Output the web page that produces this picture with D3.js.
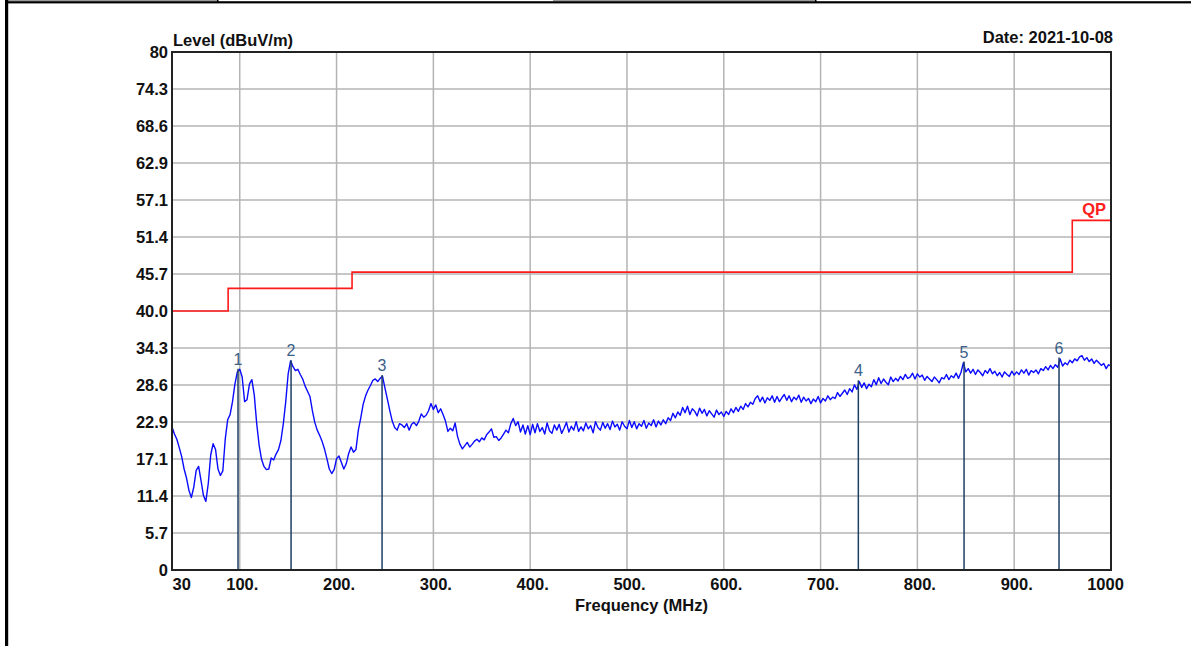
<!DOCTYPE html>
<html>
<head>
<meta charset="utf-8">
<script src="https://cdn.jsdelivr.net/npm/d3@7"></script>
<style>
  body { margin: 0; background: #fff; }
  text { font-family: Arial, "Liberation Sans", sans-serif; font-weight: bold; }
  text.mark { font-weight: normal; }
</style>
</head>
<body>
<svg id="chart"></svg>
<script>
// sweep: 30 .. 1000 MHz, one reading every 2.5 MHz
const sweepStart = 30;
const sweepStep = 2.5;
const levels = [
  22.1, 21.0, 20.2, 18.9, 17.5, 15.6, 14.2, 12.3, 11.2, 12.8,
  15.4, 16.0, 13.8, 11.5, 10.6, 13.4, 17.8, 19.5, 18.6, 15.6,
  14.6, 15.3, 20.2, 23.2, 24.0, 26.0, 28.7, 30.6, 31.0, 29.8,
  26.0, 26.3, 28.7, 29.4, 27.0, 22.6, 19.3, 17.1, 16.0, 15.5,
  15.6, 17.3, 17.0, 17.9, 18.6, 20.0, 22.6, 26.0, 30.3, 32.3,
  31.4, 30.8, 31.0, 30.2, 29.5, 28.4, 27.6, 26.8, 24.6, 22.8,
  21.6, 20.8, 19.9, 18.7, 17.2, 15.6, 14.9, 15.5, 17.2, 17.6,
  16.6, 15.6, 16.4, 18.0, 19.0, 18.2, 18.6, 21.6, 23.5, 25.6,
  26.9, 27.8, 28.5, 29.3, 29.5, 29.1, 29.6, 29.9, 28.1, 26.4,
  24.6, 23.0, 22.0, 21.6, 22.6, 22.4, 22.0, 22.6, 21.6, 22.5,
  22.8, 22.3, 23.0, 24.1, 23.6, 23.9, 24.6, 25.7, 24.8, 25.5,
  24.3, 24.9, 24.0, 23.0, 21.4, 21.9, 21.5, 22.7, 20.6, 19.4,
  18.7, 19.2, 19.7, 19.0, 19.4, 19.9, 20.2, 19.8, 20.4, 20.1,
  20.9, 21.3, 21.8, 20.5, 20.6, 20.0, 20.4, 21.0, 21.6, 21.2,
  22.6, 23.4, 22.3, 22.9, 21.3, 22.4, 21.0, 22.3, 20.9, 22.5,
  21.2, 22.6, 21.4, 22.0, 21.0, 22.7, 21.5, 21.1, 22.4, 21.6,
  22.5, 21.1, 21.9, 22.8, 21.3, 22.2, 21.6, 22.9, 21.4, 22.1,
  21.5, 22.7, 21.8, 22.3, 21.2, 22.9, 22.0, 21.6, 22.8, 21.9,
  22.6, 21.7, 23.0, 22.1, 22.5, 21.6, 22.9, 22.2, 21.8, 23.1,
  22.0, 22.9, 21.8, 22.6, 22.2, 23.1, 21.9, 22.7, 22.3, 23.2,
  22.1, 23.0, 22.4, 23.2, 22.6, 23.5, 23.1, 24.2, 23.5, 24.4,
  23.9, 25.1, 24.3, 25.3, 24.0, 24.9, 24.5, 23.8, 25.0, 24.2,
  24.8, 23.8, 24.6, 24.1, 23.6, 24.7, 24.0, 24.4, 23.7, 24.5,
  24.0, 24.9, 24.3, 25.1, 24.5, 25.3, 24.8, 25.7, 25.2, 25.9,
  25.6, 26.5, 26.9, 26.0, 26.7, 25.8, 26.6, 26.2, 26.9, 25.9,
  26.8, 26.0, 26.6, 27.1, 26.2, 26.9, 26.0, 26.7, 26.3, 27.0,
  25.9, 26.7, 26.1, 26.5, 25.7, 26.4, 26.0, 26.8, 25.8, 26.5,
  26.1, 26.9, 26.3, 26.7, 26.5, 27.4, 26.8, 27.3, 27.8, 27.1,
  28.0, 27.5, 28.6, 27.9, 29.1, 28.2, 28.9, 28.0, 28.7, 28.3,
  29.4, 28.6, 29.7, 28.8, 29.5, 29.0, 28.6, 29.8, 29.1, 29.6,
  29.2, 29.9, 29.4, 30.2, 29.6, 29.8, 30.4, 29.5, 30.3, 29.8,
  30.1, 29.3, 29.9, 29.5, 29.1, 29.8, 29.4, 28.9, 29.7, 29.5,
  30.2, 29.4, 30.0, 29.7, 30.4, 29.6, 30.5, 32.0, 30.6, 31.1,
  30.4, 31.0, 30.2, 30.9, 30.5, 30.0, 30.8, 30.4, 31.1, 30.3,
  30.7, 30.0, 30.5, 29.8, 30.6, 30.2, 29.9, 30.7, 30.1, 30.6,
  30.2, 30.9, 30.4, 31.0, 30.1, 30.8, 30.5, 30.9, 30.3, 31.1,
  30.8, 31.4, 30.9, 31.6, 31.1, 31.7, 31.3, 32.6, 31.5, 32.0,
  31.7, 32.4, 32.0, 32.6, 32.3, 32.9, 33.1, 32.4, 32.8, 32.2,
  32.6, 31.9, 32.4, 32.0, 31.6, 31.9, 31.1, 31.7, 31.5
];

// QP limit steps
const limitFreqs = [30, 88, 216, 960, 1000];
const limitLevels = [40, 43.5, 46, 54, 54];

// markers
const markerLabels = ["1", "2", "3", "4", "5", "6"];
const markerFreqs = [98.2, 153.0, 247.0, 739.0, 848.2, 946.3];
const markerLevels = [31.1, 32.4, 30.1, 29.3, 32.2, 32.8];

// axis ticks
const xTicks = [30, 100, 200, 300, 400, 500, 600, 700, 800, 900, 1000];
const xTickLabels = ["30", "100.", "200.", "300.", "400.", "500.", "600.", "700.", "800.", "900.", "1000"];
const yTickLabels = ["0", "5.7", "11.4", "17.1", "22.9", "28.6", "34.3", "40.0", "45.7", "51.4", "57.1", "62.9", "68.6", "74.3", "80"];

const width = 1191;
const height = 646;
const plotL = 172, plotR = 1111, plotT = 52, plotB = 570;

const svg = d3.select("#chart").attr("width", width).attr("height", height);

// page frame bits
svg.append("rect").attr("x", 8).attr("y", 0).attr("width", 209).attr("height", 1.2).attr("fill", "#9a9a9a");
svg.append("rect").attr("x", 553).attr("y", 0).attr("width", 262).attr("height", 1.2).attr("fill", "#9a9a9a");
svg.append("rect").attr("x", 5).attr("y", 1.2).attr("width", width - 5).attr("height", 2.2).attr("fill", "#000");
svg.append("rect").attr("x", 217).attr("y", 0).attr("width", 1.5).attr("height", 2).attr("fill", "#000");
svg.append("rect").attr("x", 815).attr("y", 0).attr("width", 1.5).attr("height", 2).attr("fill", "#000");
svg.append("rect").attr("x", 5).attr("y", 0).attr("width", 3.2).attr("height", height).attr("fill", "#000");

const x = d3.scaleLinear().domain([30, 1000]).range([plotL, plotR]);
const y = d3.scaleLinear().domain([0, 80]).range([plotB, plotT]);
const yTicks = yTickLabels.map((d, i) => i * 80 / 14);

// grid
svg.append("g")
  .selectAll("line")
  .data(xTicks.slice(1, -1))
  .enter()
  .append("line")
  .attr("x1", (d) => x(d)).attr("x2", (d) => x(d))
  .attr("y1", plotT).attr("y2", plotB)
  .attr("stroke", "#b4b4b4").attr("stroke-width", 1.5);

svg.append("g")
  .selectAll("line")
  .data(yTicks.slice(1, -1))
  .enter()
  .append("line")
  .attr("x1", plotL).attr("x2", plotR)
  .attr("y1", (d) => y(d)).attr("y2", (d) => y(d))
  .attr("stroke", "#b4b4b4").attr("stroke-width", 1.5);

// axes labels via d3 axes, domain/tick lines hidden
const xAxis = svg.append("g")
  .attr("transform", `translate(0,${plotB})`)
  .call(d3.axisBottom(x).tickValues(xTicks).tickSize(0).tickPadding(0)
    .tickFormat((d, i) => xTickLabels[i]));
xAxis.select(".domain").remove();
xAxis.selectAll("text")
  .attr("y", 20).attr("dy", 0)
  .attr("font-size", 16.5).attr("fill", "#111")
  .attr("text-anchor", (d, i) => (i === 0 ? "start" : "middle"))
  .attr("dx", (d, i) => (i === 0 ? 0 : i === xTicks.length - 1 ? -6 : 2));
xAxis.attr("font-family", null).attr("font-size", null);

const yAxis = svg.append("g")
  .attr("transform", `translate(${plotL},0)`)
  .call(d3.axisLeft(y).tickValues(yTicks).tickSize(0).tickPadding(4)
    .tickFormat((d, i) => yTickLabels[i]));
yAxis.select(".domain").remove();
yAxis.selectAll("text")
  .attr("font-size", 16.5).attr("fill", "#111");
yAxis.attr("font-family", null).attr("font-size", null);

// limit line
const limitLine = d3.line()
  .x((d, i) => x(limitFreqs[i]))
  .y((d) => y(d))
  .curve(d3.curveStepAfter);
svg.append("path")
  .attr("d", limitLine(limitLevels))
  .attr("fill", "none").attr("stroke", "#ff1a1a").attr("stroke-width", 1.6);

svg.append("text")
  .attr("x", plotR - 5).attr("y", y(54) - 5)
  .attr("text-anchor", "end").attr("font-size", 16.5).attr("fill", "#ff2020")
  .text("QP");

// trace
const traceLine = d3.line()
  .x((d, i) => x(sweepStart + i * sweepStep))
  .y((d) => y(d));
svg.append("path")
  .attr("d", traceLine(levels))
  .attr("fill", "none").attr("stroke", "#0a0aff").attr("stroke-width", 1.4)
  .attr("stroke-linejoin", "round");

// markers
const mk = svg.append("g");
mk.selectAll("line")
  .data(markerFreqs)
  .enter()
  .append("line")
  .attr("x1", (d) => x(d)).attr("x2", (d) => x(d))
  .attr("y1", (d, i) => y(markerLevels[i])).attr("y2", plotB)
  .attr("stroke", "#1d3f62").attr("stroke-width", 1.5);
mk.selectAll("text")
  .data(markerFreqs)
  .enter()
  .append("text")
  .attr("class", "mark")
  .attr("x", (d) => x(d)).attr("y", (d, i) => y(markerLevels[i]) - 4)
  .attr("text-anchor", "middle").attr("font-size", 16)
  .attr("fill", "#3b6087")
  .text((d, i) => markerLabels[i]);

// frame
svg.append("rect")
  .attr("x", plotL).attr("y", plotT)
  .attr("width", plotR - plotL).attr("height", plotB - plotT)
  .attr("fill", "none").attr("stroke", "#222").attr("stroke-width", 2);

// titles
svg.append("text").attr("x", plotL + 1).attr("y", 46)
  .attr("font-size", 16.5).attr("fill", "#111").text("Level (dBuV/m)");
svg.append("text").attr("x", plotR + 2).attr("y", 43)
  .attr("text-anchor", "end").attr("font-size", 16.5).attr("fill", "#111").text("Date: 2021-10-08");
svg.append("text").attr("x", (plotL + plotR) / 2).attr("y", 611)
  .attr("text-anchor", "middle").attr("font-size", 16.5).attr("fill", "#111").text("Frequency (MHz)");
</script>
</body>
</html>
